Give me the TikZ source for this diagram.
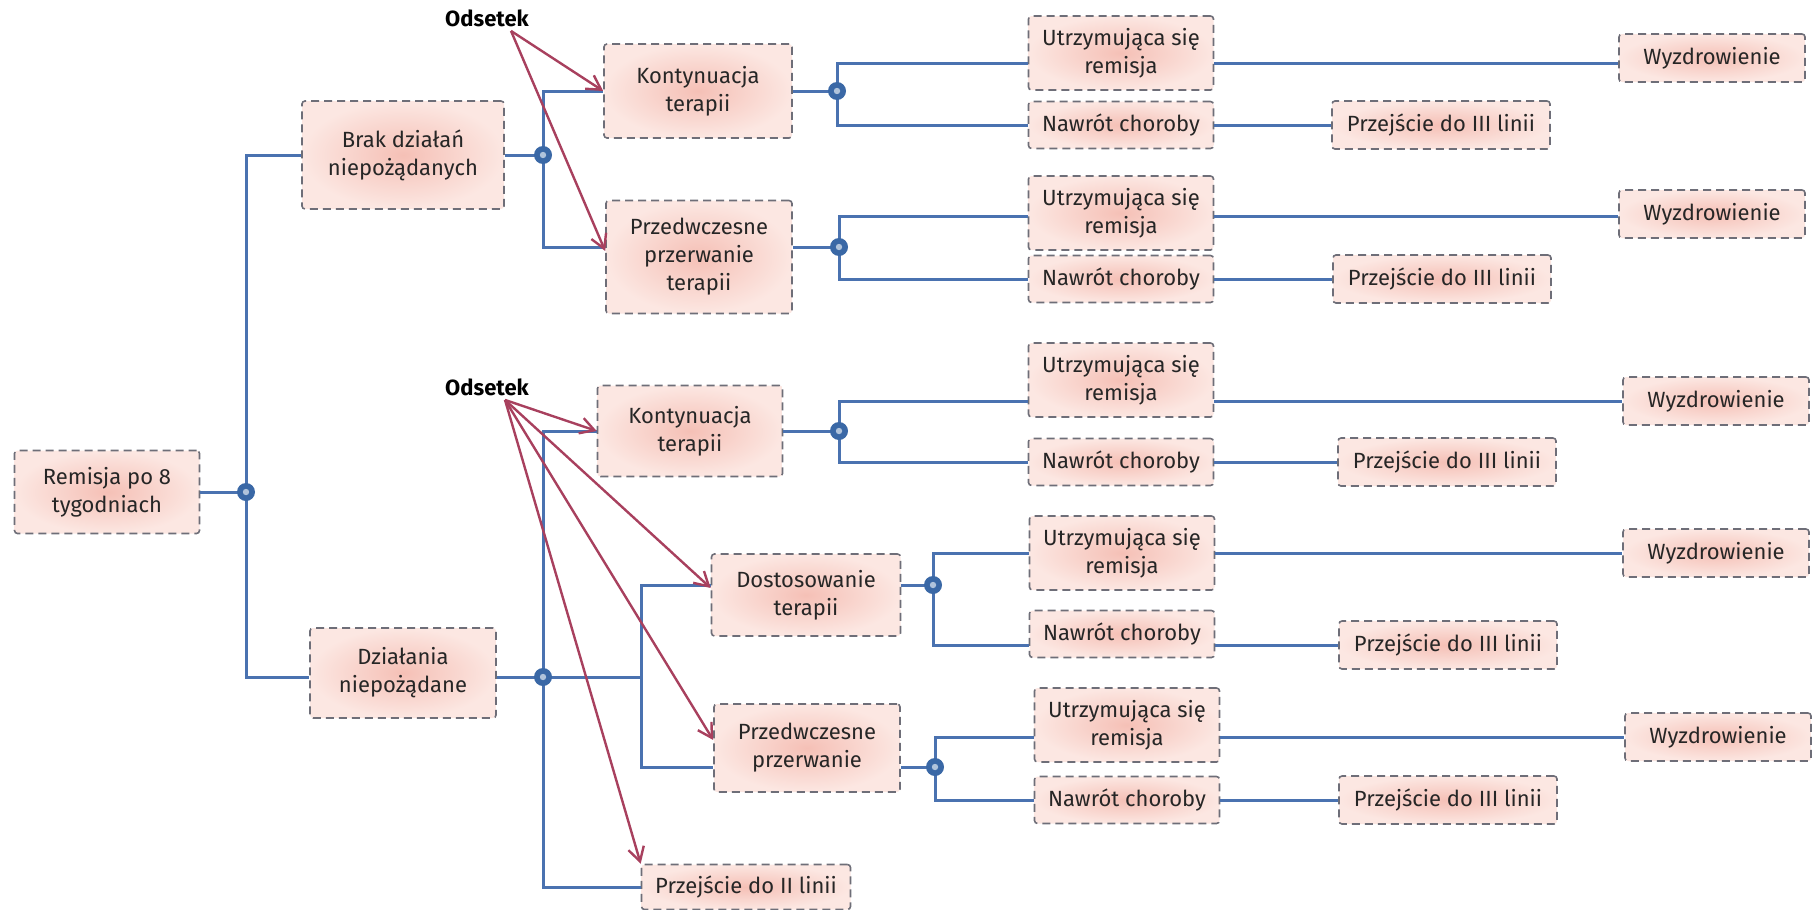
\documentclass[tikz,border=0pt]{standalone}
\usepackage{fontspec}
\setmainfont{Fira Sans}
\usetikzlibrary{arrows.meta,calc}
\definecolor{treeblue}{HTML}{4A72B0}
\definecolor{dotblue}{HTML}{3A68A6}
\definecolor{arrowred}{HTML}{A8405E}
\definecolor{boxin}{HTML}{F5C0B6}
\definecolor{boxout}{HTML}{FCE7E2}
\definecolor{boxline}{HTML}{6E6E78}
\tikzset{
  box/.style={draw=boxline, dash pattern=on 4pt off 2.5pt, line width=0.8pt,
    rounded corners=1.5pt, inner color=boxin, outer color=boxout,
    align=center, font=\fontsize{11}{14}\selectfont, text=black!85, inner sep=2pt},
  sz/.style 2 args={minimum width=#1pt, minimum height=#2pt},
  ubox/.style={box, sz={92.5}{37}},
  nbox/.style={box, sz={92.5}{23.5}},
  pbox/.style={box, sz={109}{24}},
  wbox/.style={box, sz={93}{24}},
  tree/.style={draw=treeblue, line width=1.5pt},
  odds/.style={draw=arrowred, line width=1.2pt, -{Straight Barb[length=7pt,width=8pt]}},
  junc/.style={circle, fill=dotblue, minimum size=9pt, inner sep=0pt,
    path picture={\fill[dotblue!40!white] (path picture bounding box.center) circle (1.6pt);}},
  lab/.style={font=\fontsize{11}{13}\selectfont\bfseries, text=black, inner sep=2pt}
}
\begin{document}
\begin{tikzpicture}[x=0.5pt,y=-0.5pt]
\useasboundingbox (0,0) rectangle (1820,910);

% main nodes
\node[box, sz={92.5}{41.5}] (R) at (107,492) {Remisja po 8\\tygodniach};
\node[box, sz={101}{54}] (B) at (403,155) {Brak działań\\niepożądanych};
\node[box, sz={94}{47}] (K1) at (698,91) {Kontynuacja\\terapii};
\node[box, sz={93}{56.5}] (Q1) at (699,257) {Przedwczesne\\przerwanie\\terapii};
\node[box, sz={93}{45}] (D) at (403,673) {Działania\\niepożądane};
\node[box, sz={92.5}{45.5}] (K2) at (690,431) {Kontynuacja\\terapii};
\node[box, sz={94.5}{41}] (Dost) at (806,595) {Dostosowanie\\terapii};
\node[box, sz={93}{44}] (Q2) at (807,748) {Przedwczesne\\przerwanie};
\node[box, sz={104.5}{22.5}] (PII) at (746,887) {Przejście do II linii};

% leaves
\node[ubox] (U1) at (1121,53) {Utrzymująca się\\remisja};
\node[nbox] (N1) at (1121,125) {Nawrót choroby};
\node[pbox] (P1) at (1441,125) {Przejście do III linii};
\node[wbox] (W1) at (1712,58) {Wyzdrowienie};

\node[ubox] (U2) at (1121,213) {Utrzymująca się\\remisja};
\node[nbox] (N2) at (1121,279) {Nawrót choroby};
\node[pbox] (P2) at (1442,279) {Przejście do III linii};
\node[wbox] (W2) at (1712,214) {Wyzdrowienie};

\node[ubox] (U3) at (1121,380) {Utrzymująca się\\remisja};
\node[nbox] (N3) at (1121,462) {Nawrót choroby};
\node[pbox] (P3) at (1447,462) {Przejście do III linii};
\node[wbox] (W3) at (1716,401) {Wyzdrowienie};

\node[ubox] (U4) at (1122,553) {Utrzymująca się\\remisja};
\node[nbox] (N4) at (1122,634) {Nawrót choroby};
\node[pbox] (P4) at (1448,645) {Przejście do III linii};
\node[wbox] (W4) at (1716,553) {Wyzdrowienie};

\node[ubox] (U5) at (1127,725) {Utrzymująca się\\remisja};
\node[nbox] (N5) at (1127,800) {Nawrót choroby};
\node[pbox] (P5) at (1448,800) {Przejście do III linii};
\node[wbox] (W5) at (1718,737) {Wyzdrowienie};

% labels
\node[lab] (O1) at (487,18) {Odsetek};
\node[lab] (O2) at (487,387) {Odsetek};

% junction coordinates
\coordinate (J0) at (246,492);
\coordinate (J1) at (543,155);
\coordinate (J2) at (837,91);
\coordinate (J3) at (839,247);
\coordinate (J4) at (543,677);
\coordinate (F1) at (641,677);
\coordinate (J5) at (839,431);
\coordinate (J6) at (933,585);
\coordinate (J7) at (935,767);

% tree connectors
\draw[tree] (R.east) -- (J0);
\draw[tree] (J0) |- (B.west);
\draw[tree] (J0) |- ([yshift=-2pt]D.west);

\draw[tree] (B.east) -- (J1);
\draw[tree] (J1) |- (K1.west);
\draw[tree] (J1) |- ([yshift=5pt]Q1.west);

\draw[tree] (K1.east) -- (J2);
\draw[tree] (J2) |- ([yshift=-5pt]U1.west);
\draw[tree] (J2) |- (N1.west);
\draw[tree] ([yshift=-5pt]U1.east) -- ([yshift=-2.5pt]W1.west);
\draw[tree] (N1.east) -- (P1.west);

\draw[tree] ([yshift=5pt]Q1.east) -- (J3);
\draw[tree] (J3) |- ([yshift=-1.5pt]U2.west);
\draw[tree] (J3) |- (N2.west);
\draw[tree] ([yshift=-1.5pt]U2.east) -- ([yshift=-1pt]W2.west);
\draw[tree] (N2.east) -- (P2.west);

\draw[tree] ([yshift=-2pt]D.east) -- (J4);
\draw[tree] (J4) |- (K2.west);
\draw[tree] (J4) |- (PII.west);
\draw[tree] (J4) -- (F1);
\draw[tree] (F1) |- ([yshift=5pt]Dost.west);
\draw[tree] (F1) |- ([yshift=-9.5pt]Q2.west);

\draw[tree] (K2.east) -- (J5);
\draw[tree] (J5) |- ([yshift=-10.5pt]U3.west);
\draw[tree] (J5) |- (N3.west);
\draw[tree] ([yshift=-10.5pt]U3.east) -- (W3.west);
\draw[tree] (N3.east) -- (P3.west);

\draw[tree] ([yshift=5pt]Dost.east) -- (J6);
\draw[tree] (J6) |- (U4.west);
\draw[tree] (J6) |- ([yshift=-5.5pt]N4.west);
\draw[tree] (U4.east) -- (W4.west);
\draw[tree] ([yshift=-5.5pt]N4.east) -- (P4.west);

\draw[tree] ([yshift=-9.5pt]Q2.east) -- (J7);
\draw[tree] (J7) |- ([yshift=-6pt]U5.west);
\draw[tree] (J7) |- (N5.west);
\draw[tree] ([yshift=-6pt]U5.east) -- (W5.west);
\draw[tree] (N5.east) -- (P5.west);

% junction dots
\foreach \j in {J0,J1,J2,J3,J4,J5,J6,J7} {\node[junc] (\j dot) at (\j) {};}

% Odsetek arrows
\draw[odds] ([xshift=12pt]O1.south) -- (K1.west);
\draw[odds] ([xshift=12pt]O1.south) -- ([yshift=3pt]Q1.west);
\draw[odds] ([xshift=9pt]O2.south) -- (K2.west);
\draw[odds] ([xshift=9pt]O2.south) -- ([yshift=3.5pt]Dost.west);
\draw[odds] ([xshift=9pt]O2.south) -- ([yshift=4pt]Q2.west);
\draw[odds] ([xshift=9pt]O2.south) -- (PII.north west);
\end{tikzpicture}
\end{document}
